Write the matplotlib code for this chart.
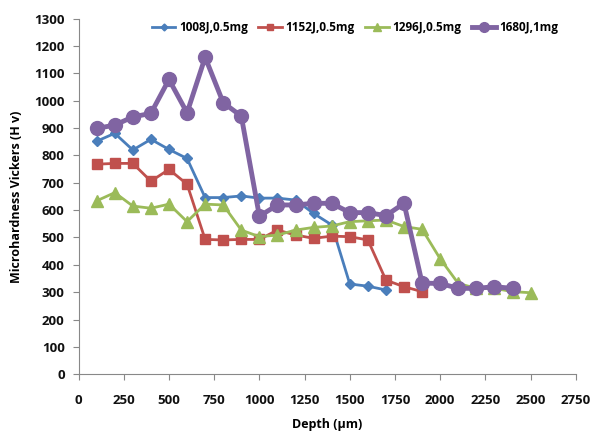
import matplotlib
matplotlib.use("Agg")
import matplotlib.pyplot as plt

plt.rcParams['font.family'] = ['Open Sans', 'DejaVu Sans']

depth_1008 = [100, 200, 300, 400, 500, 600, 700, 800, 900, 1000, 1100, 1200, 1300, 1400, 1500, 1600, 1700]
hv_1008 = [852, 881, 820, 859, 822, 789, 646, 646, 652, 644, 644, 637, 588, 546, 330, 322, 308]

depth_1152 = [100, 200, 300, 400, 500, 600, 700, 800, 900, 1000, 1100, 1200, 1300, 1400, 1500, 1600, 1700, 1800, 1900]
hv_1152 = [768, 771, 771, 706, 749, 695, 493, 491, 493, 493, 527, 509, 497, 505, 503, 491, 344, 320, 302]

depth_1296 = [100, 200, 300, 400, 500, 600, 700, 800, 900, 1000, 1100, 1200, 1300, 1400, 1500, 1600, 1700, 1800, 1900, 2000, 2100, 2200, 2300, 2400, 2500]
hv_1296 = [634, 664, 615, 607, 622, 558, 622, 619, 527, 503, 509, 527, 537, 542, 558, 561, 564, 540, 530, 422, 332, 314, 314, 302, 298]

depth_1680 = [100, 200, 300, 400, 500, 600, 700, 800, 900, 1000, 1100, 1200, 1300, 1400, 1500, 1600, 1700, 1800, 1900, 2000, 2100, 2200, 2300, 2400]
hv_1680 = [899, 911, 941, 954, 1078, 956, 1159, 993, 944, 578, 619, 619, 625, 625, 591, 591, 580, 625, 333, 332, 314, 314, 320, 314]

labels = ['1008J,0.5mg', '1152J,0.5mg', '1296J,0.5mg', '1680J,1mg']
x_ticks = list(range(0, 2751, 250))
y_ticks = list(range(0, 1301, 100))

fig = plt.figure(figsize=(5.93, 4.36), dpi=100)
ax = fig.add_axes([0.1325, 0.1417, 0.8385, 0.8153])

ax.plot(depth_1008, hv_1008, color='#4A7EBB', lw=2, marker='D', ms=5, label=labels[0])
ax.plot(depth_1152, hv_1152, color='#C0504D', lw=2, marker='s', ms=7, label=labels[1])
ax.plot(depth_1296, hv_1296, color='#9BBB59', lw=2, marker='^', ms=8, label=labels[2])
ax.plot(depth_1680, hv_1680, color='#8064A2', lw=3.5, marker='o', ms=10, label=labels[3])

ax.set_xlim(0, 2750)
ax.set_ylim(0, 1300)
ax.set_xticks(x_ticks)
ax.set_yticks(y_ticks)
for s in ['top', 'right']:
    ax.spines[s].set_visible(False)
for s in ['left', 'bottom']:
    ax.spines[s].set_color('#888888')
ax.tick_params(axis='both', colors='#888888', length=4, direction='out', labelsize=9.5)
ax.tick_params(axis='x', pad=10)
ax.tick_params(axis='y', pad=6)
for lab in ax.get_xticklabels() + ax.get_yticklabels():
    lab.set_color('#111111')
    lab.set_fontweight('bold')

ax.set_xlabel('Depth (µm)', fontsize=9, fontweight='bold', labelpad=8)
ax.set_ylabel('Microhardness Vickers (H v)', fontsize=9, fontweight='bold', labelpad=8)

leg = ax.legend(loc='center', bbox_to_anchor=(0.556, 0.974), ncol=4, frameon=False,
                prop={'weight': 'bold', 'size': 8.5}, handlelength=2.0, handletextpad=0.3,
                columnspacing=0.9, markerscale=0.7)

fig.savefig('out.png', dpi=100)
